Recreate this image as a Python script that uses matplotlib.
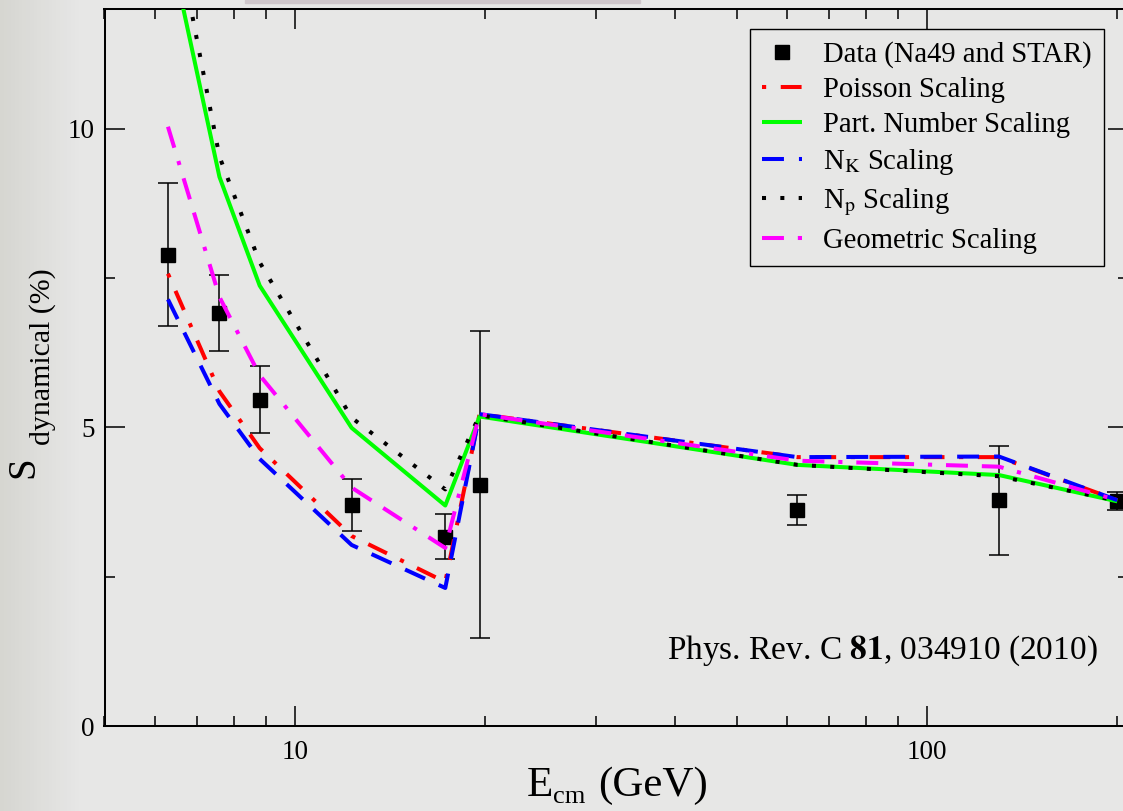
import numpy as np
import matplotlib
matplotlib.use("Agg")
import matplotlib.pyplot as plt
from matplotlib.lines import Line2D
from matplotlib.patches import Rectangle
from matplotlib.ticker import LogLocator, NullFormatter, FixedLocator, FixedFormatter, MultipleLocator

plt.rcParams['font.family'] = ['Liberation Serif', 'DejaVu Serif']
plt.rcParams['mathtext.fontset'] = 'stix'
plt.rcParams['lines.scale_dashes'] = False

# ---------------- data ----------------
energies = [6.3, 7.6, 8.8, 12.3, 17.3, 19.6, 62.4, 130, 200]
data_y = [7.89, 6.91, 5.46, 3.70, 3.17, 4.04, 3.61, 3.78, 3.77]
data_err = [1.20, 0.63, 0.56, 0.44, 0.38, 2.57, 0.25, 0.91, 0.15]

poisson = [7.57, 5.60, 4.65, 3.18, 2.41, 5.22, 4.50, 4.50, 3.78]
part_number = [13.2, 9.19, 7.37, 4.99, 3.69, 5.18, 4.37, 4.20, 3.76]
n_k = [7.14, 5.39, 4.47, 3.03, 2.31, 5.22, 4.50, 4.51, 3.78]
n_p = [14.0, 9.53, 7.76, 5.16, 3.96, 5.20, 4.37, 4.18, 3.77]
geometric = [10.03, 7.18, 5.87, 3.99, 2.98, 5.22, 4.44, 4.34, 3.78]

labels = ["Data (Na49 and STAR)", "Poisson Scaling", "Part. Number Scaling",
          r"N$_\mathrm{K}$ Scaling", r"N$_\mathrm{p}$ Scaling", "Geometric Scaling"]
x_ticks = [10, 100]
x_ticklabels = ["10", "100"]
y_ticks = [0, 5, 10]
y_ticklabels = ["0", "5", "10"]
annotation = r"Phys. Rev. C $\mathbf{81}$, 034910 (2010)"

# ---------------- styles ----------------
W, H = 1123, 811
bg = '#e7e7e6'
lw = 2.9
series = [
    (poisson, '#ff0000', (25.5, (15, 10.5, 3, 10.5))),
    (part_number, '#00ff00', '-'),
    (n_k, '#0000ff', (0, (15.8, 10.8))),
    (n_p, 'black', (0, (2.9, 10.3))),
    (geometric, '#ff00ff', (25.8, (15.8, 10, 15.8, 10, 3, 10))),
]

fig = plt.figure(figsize=(W / 100, H / 100), dpi=100, facecolor=bg)

# subtle background gradient on the left edge
bgax = fig.add_axes([0, 0, 1, 1], zorder=-10)
grad = np.ones((2, 300, 3))
xs = np.linspace(0, 1, 300)
left_col = np.array([0.84, 0.84, 0.82])
right_col = np.array([0.906, 0.906, 0.902])
w = np.clip(xs / 0.07, 0, 1)[:, None]
grad[:] = left_col * (1 - w) + right_col * w
bgax.imshow(grad, aspect='auto', extent=[0, 1, 0, 1])
bgax.set_axis_off()
fig.patches.append(Rectangle((245 / W, 1 - 3 / H), 395 / W, 3 / H,
                             transform=fig.transFigure, color='#cfc7cb', zorder=-5))

ax = fig.add_axes([104.5 / W, 85 / H, 1023.5 / W, 717 / H])
ax.set_facecolor('none')
ax.set_xscale('log')
ax.set_xlim(5.0, 208)
ax.set_ylim(0, 12)

ax.errorbar(energies, data_y, yerr=data_err, fmt='s', color='black', ms=10,
            ecolor='black', elinewidth=1.1, capsize=7.2, capthick=1.1, zorder=2)

handles = [Line2D([], [], marker='s', ms=10, color='black', ls='none')]
for i, (vals, col, ls) in enumerate(series):
    ax.plot(energies, vals, color=col, lw=lw, linestyle=ls,
            dash_capstyle='butt', solid_capstyle='butt', zorder=3 + i)
    handles.append(Line2D([], [], color=col, lw=lw, linestyle=ls,
                          dash_capstyle='butt', solid_capstyle='butt'))

# ticks
ax.xaxis.set_major_locator(FixedLocator(x_ticks))
ax.xaxis.set_major_formatter(FixedFormatter(x_ticklabels))
ax.xaxis.set_minor_locator(LogLocator(base=10, subs=np.arange(2, 10), numticks=20))
ax.xaxis.set_minor_formatter(NullFormatter())
ax.yaxis.set_major_locator(FixedLocator(y_ticks))
ax.yaxis.set_major_formatter(FixedFormatter(y_ticklabels))
ax.yaxis.set_minor_locator(MultipleLocator(2.5))
ax.tick_params(which='both', direction='in', top=True, right=True, width=1.1,
               colors='black', labelsize=19.5)
ax.tick_params(which='major', length=14.4)
ax.tick_params(which='minor', length=7)
ax.tick_params(axis='x', pad=10)
ax.tick_params(axis='y', pad=7)
for s in ax.spines.values():
    s.set_linewidth(1.45)
    s.set_color('black')

# axis labels built from pieces (large symbol + lowered subscript)
def fy(ypx):
    return 1 - ypx / H

fig.text(527 / W, fy(796), 'E', fontsize=31, ha='left', va='baseline')
fig.text(553 / W, fy(803), 'cm', fontsize=19, ha='left', va='baseline')
fig.text(598 / W, fy(796), '(GeV)', fontsize=31, ha='left', va='baseline')

fig.text(33 / W, fy(478), 'S', fontsize=28, rotation=90, rotation_mode='anchor',
         ha='left', va='baseline')
fig.text(50 / W, fy(445), 'dynamical (%)', fontsize=21.5, rotation=90,
         rotation_mode='anchor', ha='left', va='baseline')

ax.text(0.9707, 0.0934, annotation, transform=ax.transAxes, ha='right',
        va='baseline', fontsize=24)

leg = ax.legend(handles, labels, loc='upper right',
                bbox_to_anchor=(1104 / W, 1 - 29 / H), bbox_transform=fig.transFigure,
                borderaxespad=0, fontsize=20.6, frameon=True, fancybox=False,
                edgecolor='black', facecolor=bg, framealpha=1, handlelength=1.4,
                handletextpad=0.75, borderpad=0.42, labelspacing=0.32)
leg.get_frame().set_linewidth(1.0)
leg.set_zorder(10)

fig.savefig('out.png', dpi=100, facecolor=fig.get_facecolor())
